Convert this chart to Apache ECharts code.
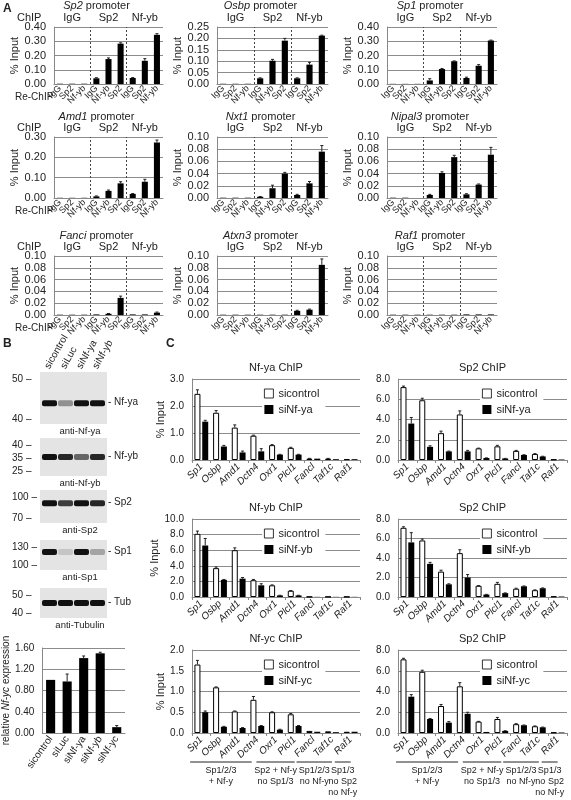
<!DOCTYPE html>
<html><head><meta charset="utf-8">
<script src="https://cdn.jsdelivr.net/npm/echarts@6/dist/echarts.min.js"></script>
<style>html,body{margin:0;padding:0;background:#fff}#c{width:571px;height:800px}</style>
</head><body><div id="c"></div>
<script>
// ---------- Panel A data ----------
const reChipCats = ["IgG","Sp2","Nf-yb","IgG","Nf-yb","Sp2","IgG","Sp2","Nf-yb"];
const chipCats = ["IgG","Sp2","Nf-yb"];
const promoters = ["Sp2","Osbp","Sp1","Amd1","Nxt1","Nipal3","Fanci","Atxn3","Raf1"];
const aSp2    = [0.002,0.002,0.002,0.040,0.175,0.283,0.042,0.163,0.345];
const aSp2Err = [0,0,0,0.004,0.008,0.006,0.003,0.015,0.008];
const aOsbp    = [0.001,0.001,0.001,0.025,0.102,0.190,0.025,0.085,0.212];
const aOsbpErr = [0,0,0,0.002,0.006,0.010,0.002,0.010,0.002];
const aSp1    = [0.001,0.001,0.001,0.025,0.105,0.160,0.042,0.128,0.305];
const aSp1Err = [0,0,0,0.012,0.004,0.002,0.006,0.008,0.003];
const aAmd1    = [0.001,0.001,0.001,0.008,0.035,0.072,0.020,0.080,0.273];
const aAmd1Err = [0,0,0,0.002,0.004,0.008,0.002,0.012,0.012];
const aNxt1    = [0.0005,0.0005,0.0005,0.002,0.016,0.040,0.005,0.024,0.076];
const aNxt1Err = [0,0,0,0.0005,0.005,0.002,0.001,0.003,0.010];
const aNipal3    = [0.0005,0.0005,0,0.005,0.041,0.067,0.006,0.022,0.071];
const aNipal3Err = [0,0,0,0.001,0.002,0.003,0.001,0.001,0.012];
const aFanci    = [0.0005,0.0005,0.0005,0.001,0.002,0.029,0.001,0.001,0.004];
const aFanciErr = [0,0,0,0,0.0005,0.003,0,0,0.001];
const aAtxn3    = [0.0005,0.0005,0.0005,0.0005,0.0005,0.0005,0.007,0.009,0.085];
const aAtxn3Err = [0,0,0,0,0,0,0.001,0.001,0.010];
const aRaf1    = [0.0005,0.0005,0.0005,0.0005,0.0005,0.0005,0.001,0.001,0.001];
const aRaf1Err = [0,0,0,0,0,0,0,0,0];
const aMax = [0.40,0.25,0.40,0.30,0.10,0.10,0.10,0.10,0.10];
const aInt = [0.10,0.05,0.10,0.10,0.02,0.02,0.02,0.02,0.02];

// ---------- Panel B data ----------
const bCats = ["sicontrol","siLuc","siNf-ya","siNf-yb","siNf-yc"];
const bVals = [1.00,0.97,1.41,1.50,0.11];
const bErr  = [0.0,0.14,0.04,0.02,0.03];
const blotNames = ["anti-Nf-ya","anti-Nf-yb","anti-Sp2","anti-Sp1","anti-Tubulin"];
const blotBands = ["Nf-ya","Nf-yb","Sp2","Sp1","Tub"];
const blotMW = [["50","40"],["40","35","25"],["100","70"],["130","100"],["50","40"]];

// ---------- Panel C data ----------
const genes = ["Sp1","Osbp","Amd1","Dctn4","Oxr1","Plcl1","Fancl","Taf1c","Raf1"];
const cTitles = ["Nf-ya ChIP","Sp2 ChIP","Nf-yb ChIP","Sp2 ChIP","Nf-yc ChIP","Sp2 ChIP"];
const cSiNames = ["siNf-ya","siNf-ya","siNf-yb","siNf-yb","siNf-yc","siNf-yc"];
const c1Ctrl = [2.45,1.75,1.20,0.90,0.55,0.45,0.05,0.05,0.03];
const c1CtrlErr = [0.15,0.08,0.10,0.02,0.02,0.02,0.01,0.01,0.0];
const c1Si = [1.42,0.50,0.28,0.32,0.20,0.20,0.05,0.03,0.03];
const c1SiErr = [0.05,0.04,0.05,0.10,0.01,0.01,0.0,0.0,0.0];
const c2Ctrl = [7.20,5.90,2.65,4.50,1.15,1.35,0.90,0.60,0.05];
const c2CtrlErr = [0.10,0.20,0.20,0.35,0.02,0.10,0.05,0.03,0.0];
const c2Si = [3.60,1.30,0.85,0.85,0.20,0.15,0.50,0.35,0.05];
const c2SiErr = [0.60,0.10,0.03,0.10,0.01,0.01,0.02,0.02,0.0];
const c3Ctrl = [8.10,3.70,6.00,2.15,1.50,0.80,0.03,0.03,0.03];
const c3CtrlErr = [0.35,0.15,0.30,0.10,0.05,0.03,0.0,0.0,0.0];
const c3Si = [6.60,2.20,2.35,1.50,0.20,0.20,0.02,0.02,0.02];
const c3SiErr = [0.90,0.05,0.15,0.20,0.02,0.02,0.0,0.0,0.0];
const c4Ctrl = [7.10,5.80,2.60,4.50,1.15,1.35,0.85,0.70,0.05];
const c4CtrlErr = [0.10,0.15,0.15,0.35,0.02,0.15,0.05,0.03,0.0];
const c4Si = [5.60,3.40,1.30,2.00,0.25,0.40,1.10,0.90,0.05];
const c4SiErr = [1.00,0.15,0.05,0.30,0.02,0.02,0.03,0.03,0.0];
const c5Ctrl = [1.65,1.10,0.52,0.80,0.50,0.45,0.05,0.04,0.03];
const c5CtrlErr = [0.10,0.01,0.01,0.08,0.01,0.02,0.0,0.0,0.0];
const c5Si = [0.50,0.15,0.12,0.17,0.08,0.17,0.03,0.02,0.03];
const c5SiErr = [0.03,0.01,0.01,0.01,0.01,0.01,0.0,0.0,0.0];
const c6Ctrl = [7.10,5.90,2.60,4.50,1.10,1.35,0.85,0.65,0.05];
const c6CtrlErr = [0.10,0.15,0.15,0.35,0.02,0.15,0.05,0.03,0.0];
const c6Si = [3.50,1.35,1.00,1.85,0.10,0.20,0.75,0.55,0.05];
const c6SiErr = [0.20,0.05,0.10,0.15,0.0,0.02,0.02,0.02,0.0];
const cMax = [3,8,10,8,2,8];
const cInt = [1,2,2,2,0.5,2];
const groupLabels = ["Sp1/2/3\n+ Nf-y","Sp2 + Nf-y\nno Sp1/3","Sp1/2/3\nno Nf-y","Sp1/3\nno Sp2\nno Nf-y"];

// ================= build =================
const FONT = "Liberation Sans";
const grid=[], xAxis=[], yAxis=[], series=[], title=[], legend=[], graphic=[];
const txt = (x,y,t,o={}) => graphic.push({type:'text',x:x,y:y,style:Object.assign({text:t,font:`11px "${FONT}"`,fill:'#222',textVerticalAlign:'top'},o)});

function errSeries(xi, yi, vals, errs, off) {
  series.push({type:'custom', xAxisIndex:xi, yAxisIndex:yi, z:5, silent:true,
    data: vals.map((v,i)=>[i, v, errs[i]]),
    renderItem:(p,api)=>{
      const e = api.value(2); if (!e) return;
      const top = api.coord([api.value(0), api.value(1)+e]);
      const mid = api.coord([api.value(0), api.value(1)]);
      const x = top[0]+off;
      return {type:'group',children:[
        {type:'line',shape:{x1:x,y1:mid[1],x2:x,y2:top[1]},style:{stroke:'#222',lineWidth:1}},
        {type:'line',shape:{x1:x-1.5,y1:top[1],x2:x+1.5,y2:top[1]},style:{stroke:'#222',lineWidth:1}}]};
    }});
}

// Panel A
const aVals=[aSp2,aOsbp,aSp1,aAmd1,aNxt1,aNipal3,aFanci,aAtxn3,aRaf1];
const aErrs=[aSp2Err,aOsbpErr,aSp1Err,aAmd1Err,aNxt1Err,aNipal3Err,aFanciErr,aAtxn3Err,aRaf1Err];
const aLeft=[54,217,387], aW=[109,111,110], aTop=[27,137,256], aH=[57,61,59];
const aTitleTop=[0,111,230];
for (let k=0;k<9;k++){
  const r=Math.floor(k/3), c=k%3, g=grid.length;
  grid.push({left:aLeft[c],top:aTop[r],width:aW[c],height:aH[r]});
  const xb=xAxis.length;
  xAxis.push({type:'category',gridIndex:g,data:reChipCats,axisTick:{show:false},
    axisLine:{lineStyle:{color:'#888'}},
    axisLabel:{rotate:45,fontSize:9,margin:3,color:'#222',fontFamily:FONT,interval:0}});
  xAxis.push({type:'category',gridIndex:g,data:chipCats,position:'top',axisTick:{show:false},axisLine:{show:false},
    axisLabel:{fontSize:11,color:'#222',fontFamily:FONT,margin:4}});
  xAxis.push({type:'value',gridIndex:g,min:0,max:9,show:false});
  const yb=yAxis.length;
  yAxis.push({type:'value',gridIndex:g,min:0,max:aMax[k],interval:aInt[k],
    name:'% Input',nameLocation:'middle',nameGap:30,nameTextStyle:{fontSize:11,color:'#222',fontFamily:FONT},
    axisLine:{show:true,lineStyle:{color:'#888'}},axisTick:{show:false},
    splitLine:{lineStyle:{color:'#8c8c8c'}},
    axisLabel:{fontSize:11,color:'#222',fontFamily:FONT,formatter:v=>v.toFixed(2)}});
  series.push({type:'bar',xAxisIndex:xb,yAxisIndex:yb,data:aVals[k],barWidth:'50%',
    itemStyle:{color:'#000'},silent:true});
  errSeries(xb,yb,aVals[k],aErrs[k],0);
  series.push({type:'line',xAxisIndex:xb+2,yAxisIndex:yb,data:[],silent:true,
    markLine:{symbol:'none',silent:true,label:{show:false},lineStyle:{type:[2,2],color:'#444',width:1},
      data:[{xAxis:3},{xAxis:6}]}});
  title.push({text:`{i|${promoters[k]}} promoter`,left:aLeft[c]+aW[c]/2-12,top:aTitleTop[r],textAlign:'center',padding:0,
    textStyle:{fontSize:11,fontWeight:'normal',color:'#222',fontFamily:FONT,rich:{i:{fontStyle:'italic',fontSize:11,fontFamily:FONT}}}});
  if (c===0){
    txt(17,aTop[r]-15,'ChIP');
    txt(15,aTop[r]+aH[r]+8,'Re-ChIP',{font:`10px "${FONT}"`});
  }
}

// Panel B blots (image stand-ins)
txt(3,338,'B',{font:`bold 12px "${FONT}"`});
bCats.slice(0,4).forEach((n,i)=>graphic.push({type:'text',x:47+i*16,y:368,rotation:Math.PI/3,
  style:{text:n,font:`10px "${FONT}"`,fill:'#222',textAlign:'left',textVerticalAlign:'middle'}}));
const blotY=[[372,424],[438,476],[490,523],[540,570],[588,618]];
const bandY=[[0.6],[0.5],[0.4],[0.4],[0.5]];
const laneInt=[[1,0.4,1,1],[1,0.9,0.6,0.9],[1,0.8,1,0.9],[1,0.15,1,0.3],[1,1,1,1]];
blotY.forEach((yy,i)=>{
  graphic.push({type:'rect',shape:{x:40,y:yy[0],width:67,height:yy[1]-yy[0]},style:{fill:'#e4e4e4'}});
  laneInt[i].forEach((a,j)=>graphic.push({type:'rect',shape:{x:42+j*16,y:yy[0]+(yy[1]-yy[0])*bandY[i][0]-3,width:15,height:6,r:2},
    style:{fill:'#111',opacity:a}}));
  txt(108,yy[0]+(yy[1]-yy[0])*bandY[i][0]-6,'- '+blotBands[i],{font:`10px "${FONT}"`});
  txt(80,yy[1]+2,blotNames[i],{font:`9.5px "${FONT}"`,textAlign:'center'});
  const mw=blotMW[i];
  mw.forEach((m,j)=>txt(12,yy[0]+2+j*((yy[1]-yy[0]-12)/Math.max(1,mw.length-1)),m+' –',{font:`10px "${FONT}"`}));
});

// Panel B bar chart
{
  const g=grid.length; grid.push({left:40,top:648,width:85,height:85});
  const xb=xAxis.length;
  xAxis.push({type:'category',gridIndex:g,data:bCats,axisTick:{show:false},axisLine:{lineStyle:{color:'#888'}},
    axisLabel:{rotate:55,fontSize:10,margin:4,color:'#222',fontFamily:FONT,interval:0}});
  const yb=yAxis.length;
  yAxis.push({type:'value',gridIndex:g,min:0,max:1.6,interval:0.4,
    name:'relative {i|Nf-yc} expression',nameLocation:'middle',nameGap:28,
    nameTextStyle:{fontSize:10,color:'#222',fontFamily:FONT,rich:{i:{fontStyle:'italic',fontSize:10}}},
    axisLine:{show:true,lineStyle:{color:'#888'}},axisTick:{show:false},splitLine:{lineStyle:{color:'#8c8c8c'}},
    axisLabel:{fontSize:10,color:'#222',fontFamily:FONT,formatter:v=>v.toFixed(2)}});
  series.push({type:'bar',xAxisIndex:xb,yAxisIndex:yb,data:bVals,barWidth:'55%',itemStyle:{color:'#000'},silent:true});
  errSeries(xb,yb,bVals,bErr,0);
}

// Panel C
txt(166,338,'C',{font:`bold 12px "${FONT}"`});
const cCtrl=[c1Ctrl,c2Ctrl,c3Ctrl,c4Ctrl,c5Ctrl,c6Ctrl], cCE=[c1CtrlErr,c2CtrlErr,c3CtrlErr,c4CtrlErr,c5CtrlErr,c6CtrlErr];
const cSi=[c1Si,c2Si,c3Si,c4Si,c5Si,c6Si], cSE=[c1SiErr,c2SiErr,c3SiErr,c4SiErr,c5SiErr,c6SiErr];
const cLeft=[192,398], cW=[168,169], cTop=[379,519,650], cH=[81,78,83];
for (let k=0;k<6;k++){
  const r=Math.floor(k/2), c=k%2, g=grid.length;
  grid.push({left:cLeft[c],top:cTop[r],width:cW[c],height:cH[r]});
  const xb=xAxis.length;
  xAxis.push({type:'category',gridIndex:g,data:genes,axisTick:{show:true,length:3,lineStyle:{color:'#888'}},
    axisLine:{lineStyle:{color:'#888'}},
    axisLabel:{rotate:45,fontSize:10,margin:5,color:'#222',fontFamily:FONT,fontStyle:'italic',interval:0}});
  const yb=yAxis.length;
  yAxis.push({type:'value',gridIndex:g,min:0,max:cMax[k],interval:cInt[k],
    name:c===0?'% Input':'',nameLocation:'middle',nameGap:26,nameTextStyle:{fontSize:11,color:'#222',fontFamily:FONT},
    axisLine:{show:true,lineStyle:{color:'#888'}},axisTick:{show:false},splitLine:{lineStyle:{color:'#8c8c8c'}},
    axisLabel:{fontSize:10,color:'#222',fontFamily:FONT,formatter:v=>v.toFixed(1)}});
  const nCtrl='sicontrol', nSi=cSiNames[k];
  series.push({type:'bar',name:nCtrl,xAxisIndex:xb,yAxisIndex:yb,data:cCtrl[k],barWidth:6,barGap:'30%',
    itemStyle:{color:'#fff',borderColor:'#000',borderWidth:1},silent:true});
  series.push({type:'bar',name:nSi,xAxisIndex:xb,yAxisIndex:yb,data:cSi[k],barWidth:6,barGap:'30%',
    itemStyle:{color:'#000'},silent:true});
  errSeries(xb,yb,cCtrl[k],cCE[k],-3.9);
  errSeries(xb,yb,cSi[k],cSE[k],3.9);
  title.push({text:cTitles[k],left:cLeft[c]+cW[c]/2,top:cTop[r]-17,textAlign:'center',padding:0,
    textStyle:{fontSize:11,fontWeight:'normal',color:'#222',fontFamily:FONT}});
  legend.push({orient:'vertical',left:cLeft[c]+(c===0?70:82),top:cTop[r]+8,itemWidth:9,itemHeight:9,itemGap:5,
    backgroundColor:'#fff',padding:[1,6,1,2],selectedMode:false,
    data:[{name:nCtrl,icon:'rect',itemStyle:{borderWidth:0.8}},{name:nSi,icon:'rect'}],
    textStyle:{fontSize:11,color:'#222',fontFamily:FONT}});
}
// group annotations under row 3 (bracket spans in category units)
const groupFrom = [-0.1,3.45,5.6,7.65];
const groupTo   = [3.2,5.5,7.5,8.5];
[0,1].forEach(c=>{
  const step=cW[c]/9, x0=cLeft[c], yL=762;
  groupLabels.forEach((lab,i)=>{
    const a=x0+groupFrom[i]*step, b=x0+groupTo[i]*step;
    graphic.push({type:'line',shape:{x1:a,y1:yL,x2:b,y2:yL},style:{stroke:'#222',lineWidth:1}});
    graphic.push({type:'text',x:(a+b)/2,y:yL+3,
      style:{text:lab,font:`9px "${FONT}"`,fill:'#222',textAlign:'center',textVerticalAlign:'top',lineHeight:11}});
  });
});
txt(3,3,'A',{font:`bold 12px "${FONT}"`});

const chart=echarts.init(document.getElementById('c'),null,{renderer:'canvas'});
chart.setOption({animation:false,textStyle:{fontFamily:FONT},grid,xAxis,yAxis,series,title,legend,graphic});
</script></body></html>
